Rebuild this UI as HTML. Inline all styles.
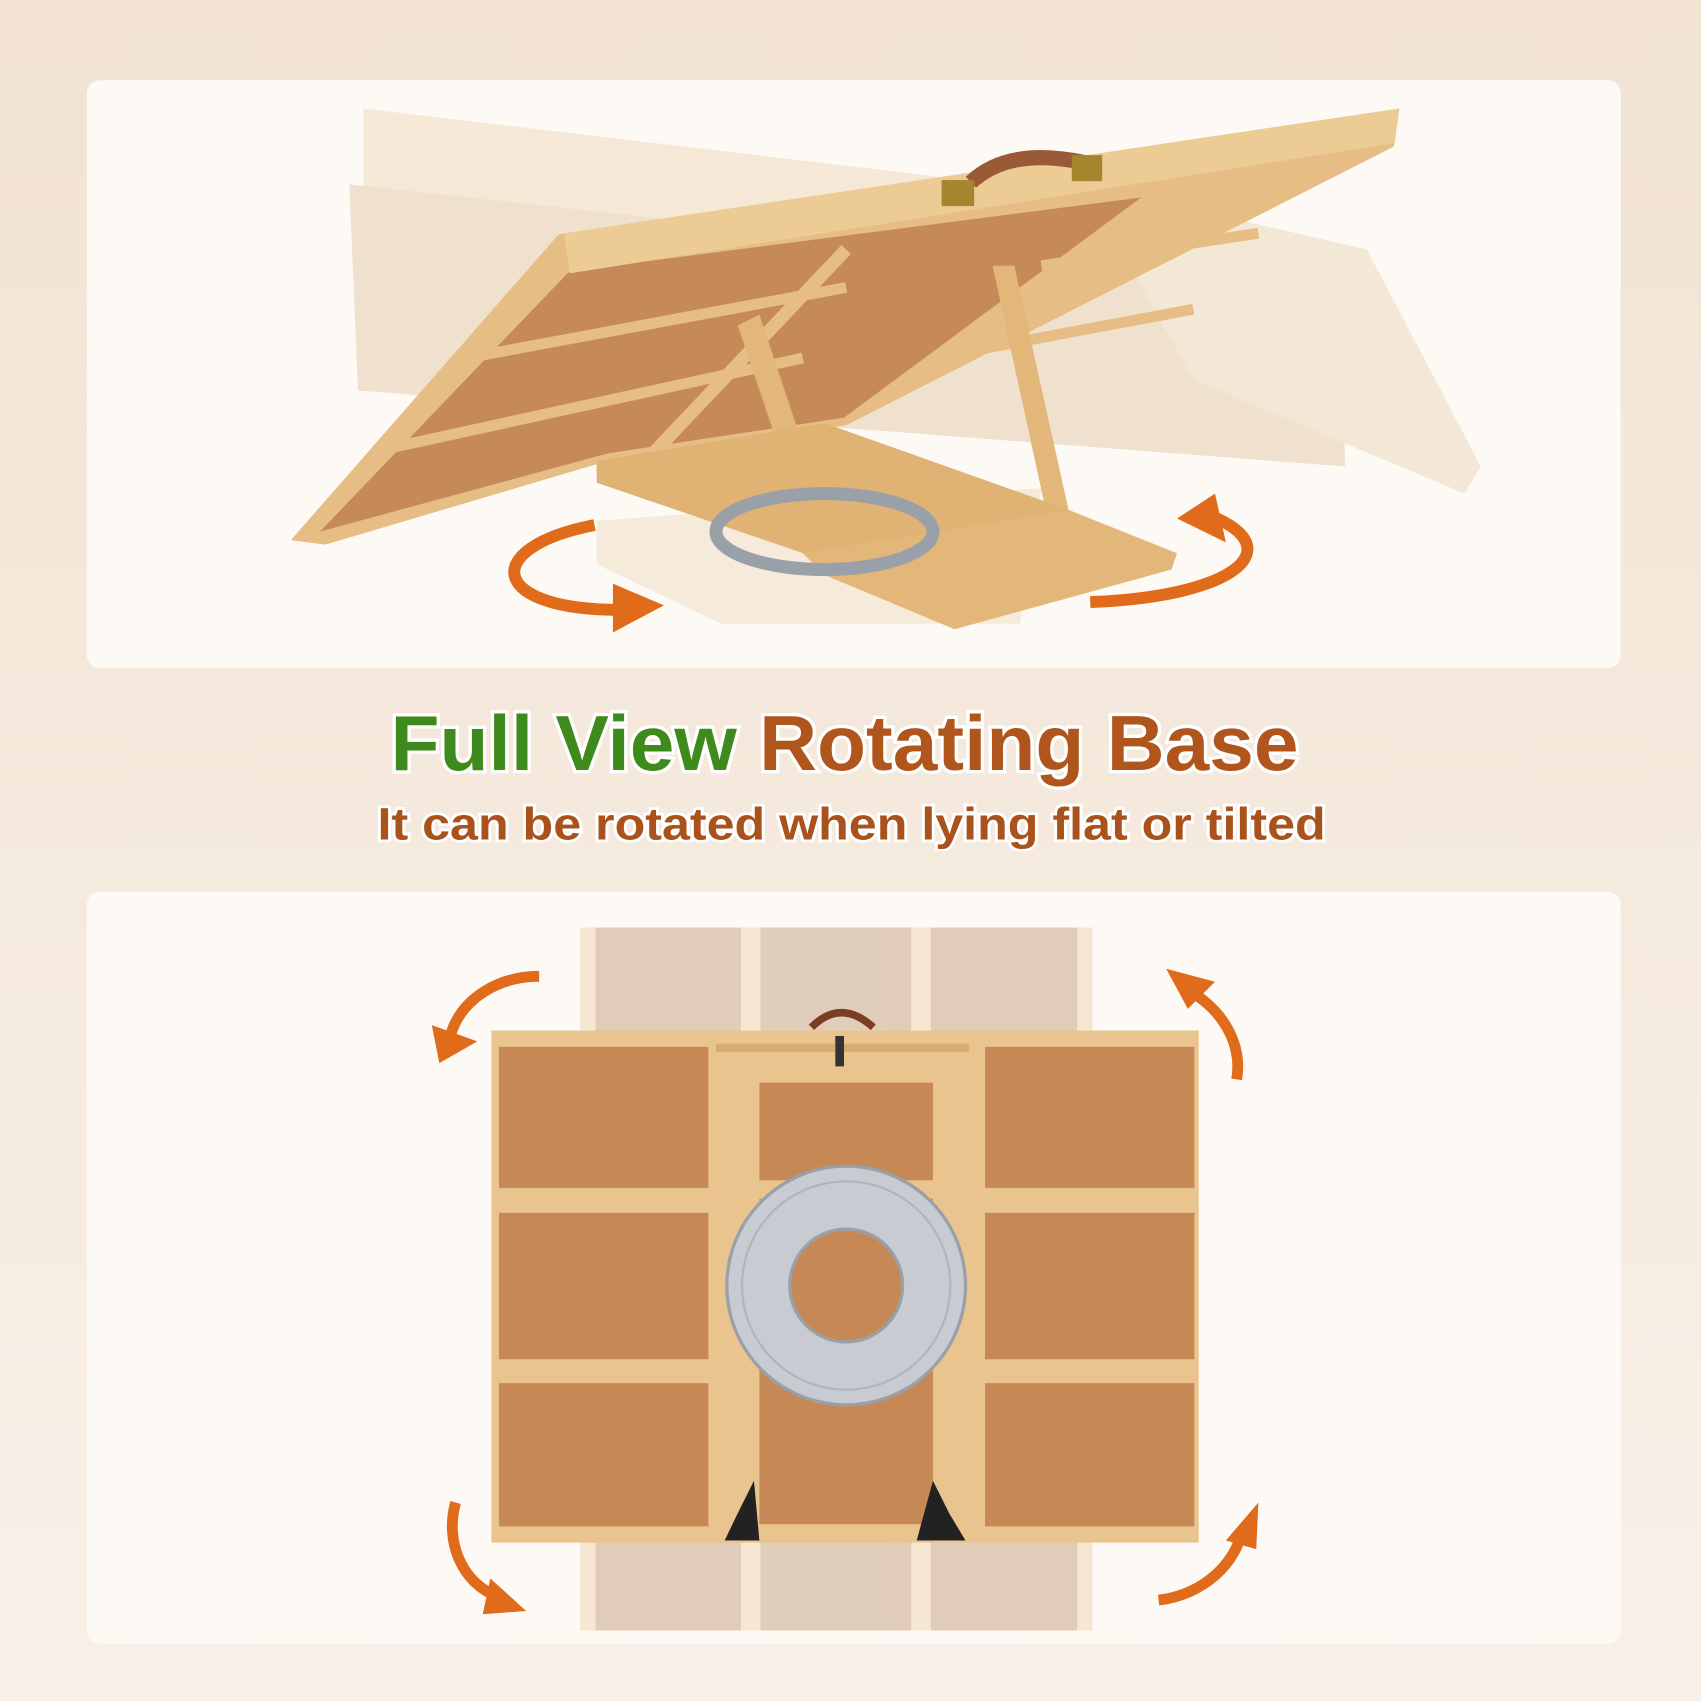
<!DOCTYPE html>
<html><head><style>
html,body{margin:0;padding:0;width:1701px;height:1701px;overflow:hidden}
body{background:linear-gradient(#f3e4d4,#f8efe6 50%,#f6ece2)}
svg{display:block}
</style></head><body>
<svg width="1701" height="1701" viewBox="0 0 1568 1568" xmlns="http://www.w3.org/2000/svg">
<defs>
<linearGradient id="bg" x1="0" y1="0" x2="0" y2="1"><stop offset="0" stop-color="#f2e3d3"/><stop offset="1" stop-color="#f8f0e8"/></linearGradient>
</defs>
<rect width="1568" height="1568" fill="url(#bg)"/>
<rect x="80" y="74" width="1414" height="542" rx="12" fill="#fdfaf5"/>
<rect x="80" y="822" width="1414" height="693" rx="12" fill="#fdfaf5"/>

<g opacity="0.35">
<polygon points="335,100 1010,180 1010,350 335,260" fill="#e8c9a0"/>
<polygon points="322,170 1235,270 1240,430 330,360" fill="#d9b38a"/>
<polygon points="1000,170 1260,230 1365,430 1350,455 1100,350" fill="#e3c49c"/>
<polygon points="550,480 960,450 940,575 665,575 550,520" fill="#e8cfa8"/>
</g>
<polygon points="268,498 515,216 1290,100 1285,135 780,392 560,425 300,502" fill="#e6bd84"/>
<polygon points="295,490 525,250 1052,182 778,385 560,418" fill="#c58a58"/>
<polygon points="520,215 1290,100 1285,132 525,252" fill="#eccb94"/>
<line x1="350" y1="415" x2="740" y2="330" stroke="#e6bd84" stroke-width="10"/>
<line x1="430" y1="330" x2="780" y2="265" stroke="#e6bd84" stroke-width="10"/>
<line x1="780" y1="230" x2="600" y2="420" stroke="#e6bd84" stroke-width="12"/>
<line x1="960" y1="245" x2="1160" y2="215" stroke="#e6bd84" stroke-width="10"/>
<line x1="860" y1="330" x2="1100" y2="285" stroke="#e6bd84" stroke-width="10"/>
<path d="M895,168 Q930,135 1000,150" stroke="#9a5a35" stroke-width="14" fill="none"/>
<rect x="868" y="166" width="30" height="24" fill="#a5862e"/>
<rect x="988" y="143" width="28" height="24" fill="#a5862e"/>
<polygon points="680,300 700,290 760,470 740,478" fill="#e3b77a"/>
<polygon points="915,245 935,245 985,470 965,475" fill="#e3b77a"/>
<polygon points="550,425 760,390 985,470 980,490 770,520 550,445" fill="#e0b274"/>
<polygon points="740,510 985,470 1085,510 1080,525 880,580 760,530" fill="#e3b77a"/>
<ellipse cx="760" cy="490" rx="100" ry="35" fill="none" stroke="#9aa0a8" stroke-width="12"/>
<path d="M548,484 C440,505 450,565 580,562" stroke="#e06b1a" stroke-width="11" fill="none"/>
<polygon points="565,538 612,558 565,583" fill="#e06b1a"/>
<path d="M1005,555 C1140,550 1190,505 1115,475" stroke="#e06b1a" stroke-width="11" fill="none"/>
<polygon points="1120,455 1085,478 1130,500" fill="#e06b1a"/>

<text x="360" y="710" textLength="837" lengthAdjust="spacingAndGlyphs" font-family="Liberation Sans,sans-serif" font-weight="bold" font-size="72" stroke="#fff" stroke-width="6" paint-order="stroke"><tspan fill="#3f8a1c">Full View </tspan><tspan fill="#b0561d">Rotating Base</tspan></text>
<text x="348" y="774" textLength="874" lengthAdjust="spacingAndGlyphs" font-family="Liberation Sans,sans-serif" font-weight="bold" font-size="42" fill="#a9521c" stroke="#fff" stroke-width="5" paint-order="stroke">It can be rotated when lying flat or tilted</text>

<g opacity="0.55">
<rect x="535" y="855" width="472" height="648" fill="#c9a788"/>
<rect x="535" y="855" width="14" height="648" fill="#f0d8b4"/>
<rect x="683" y="855" width="18" height="648" fill="#f0d8b4"/>
<rect x="840" y="855" width="18" height="648" fill="#f0d8b4"/>
<rect x="993" y="855" width="14" height="648" fill="#f0d8b4"/>
</g>
<rect x="453" y="950" width="652" height="472" fill="#eac48e"/>
<rect x="460" y="965" width="193" height="130" fill="#c68956"/>
<rect x="460" y="1118" width="193" height="135" fill="#c68956"/>
<rect x="460" y="1275" width="193" height="132" fill="#c68956"/>
<rect x="908" y="965" width="193" height="130" fill="#c68956"/>
<rect x="908" y="1118" width="193" height="135" fill="#c68956"/>
<rect x="908" y="1275" width="193" height="132" fill="#c68956"/>
<rect x="700" y="998" width="160" height="90" fill="#c68956"/>
<rect x="700" y="1105" width="160" height="300" fill="#c68956"/>
<rect x="660" y="962" width="233" height="8" fill="#d9ad72"/>
<path d="M748,947 Q775,920 805,947" stroke="#7a3f22" stroke-width="7" fill="none"/>
<rect x="770" y="955" width="8" height="28" fill="#333"/>
<circle cx="780" cy="1185" r="110" fill="#c8ccd2" stroke="#9aa0a8" stroke-width="3"/>
<circle cx="780" cy="1185" r="96" fill="none" stroke="#b0b5bc" stroke-width="2"/>
<circle cx="780" cy="1185" r="52" fill="#c68956" stroke="#9aa0a8" stroke-width="3"/>
<polygon points="680,1395 695,1365 700,1420 668,1420" fill="#222"/>
<polygon points="860,1365 875,1395 890,1420 845,1420" fill="#222"/>
<g stroke="#e06b1a" stroke-width="10" fill="none">
<path d="M497,900 C460,900 425,920 415,955"/>
<path d="M1090,910 C1130,930 1145,965 1140,995"/>
<path d="M420,1385 C410,1420 425,1460 460,1472"/>
<path d="M1068,1475 C1110,1470 1140,1440 1145,1410"/>
</g>
<g fill="#e06b1a">
<polygon points="398,945 440,960 405,980"/>
<polygon points="1075,893 1120,905 1095,930"/>
<polygon points="452,1455 485,1485 445,1488"/>
<polygon points="1130,1420 1160,1385 1158,1428"/>
</g>
</svg>
</body></html>
